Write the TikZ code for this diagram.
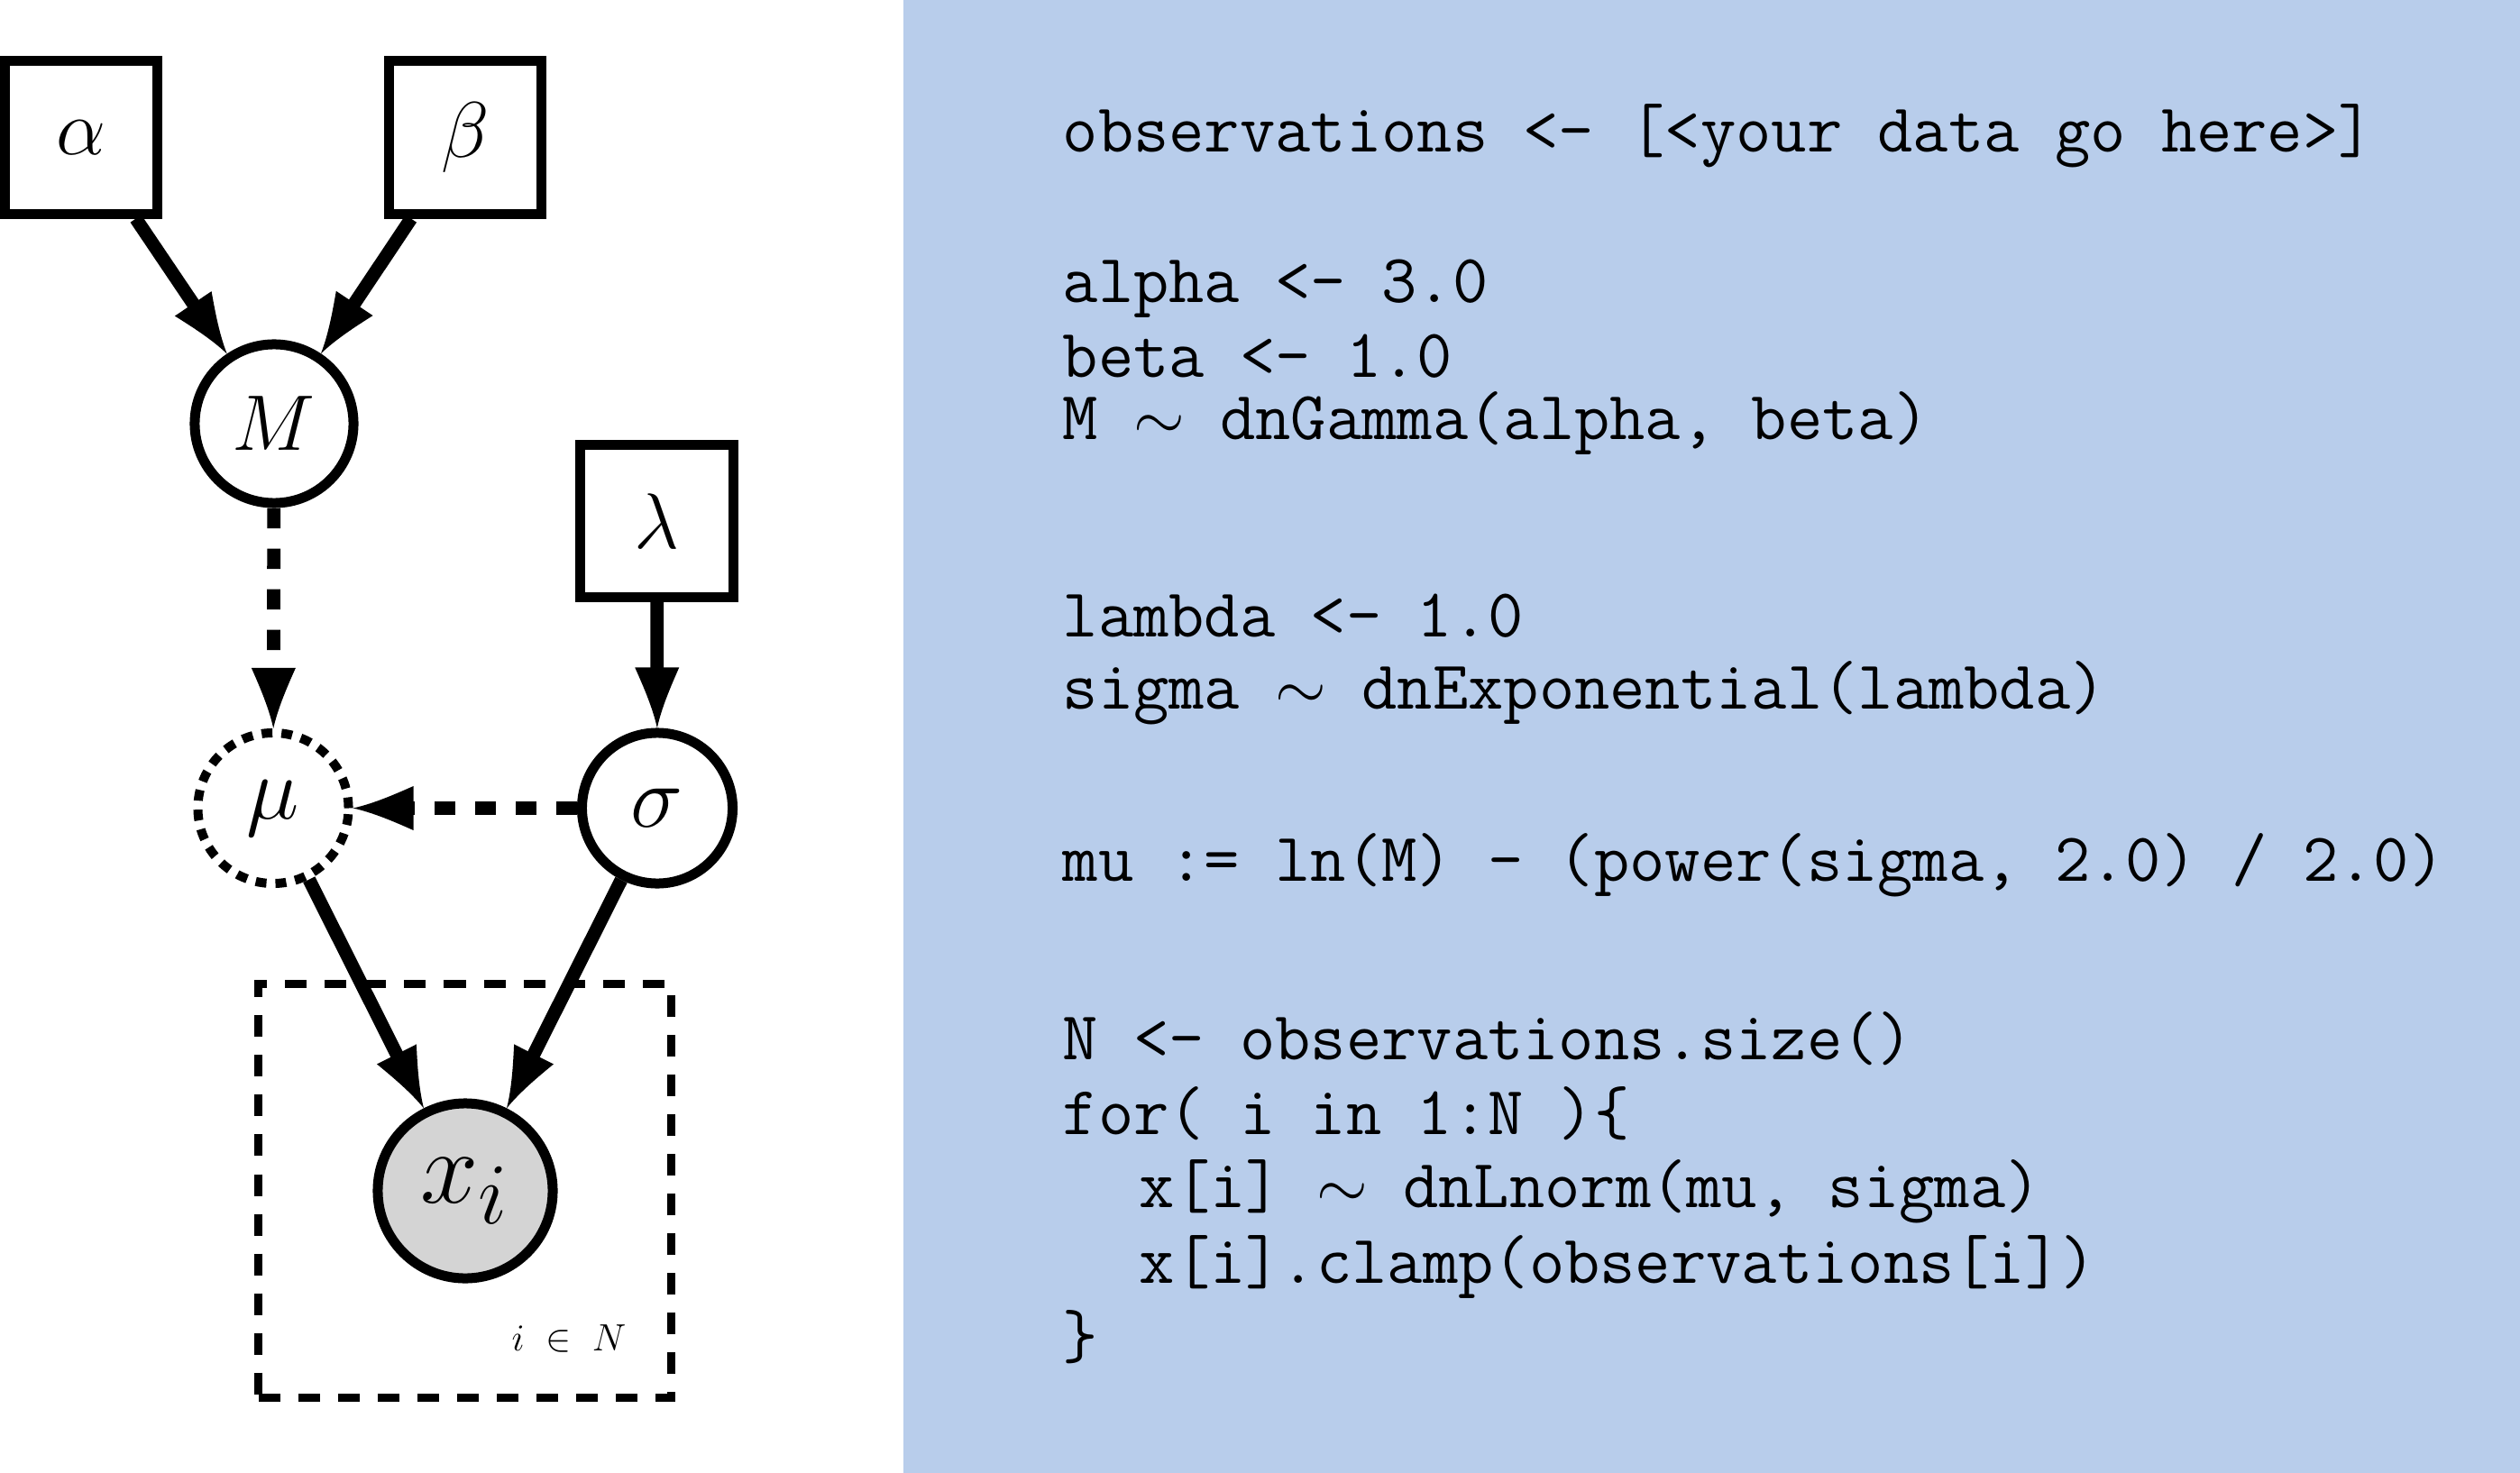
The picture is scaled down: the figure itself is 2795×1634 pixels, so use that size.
\documentclass[tikz,border=0pt]{standalone}
\usetikzlibrary{arrows.meta}
\definecolor{codebg}{RGB}{184,205,235}
\definecolor{obsfill}{RGB}{212,212,212}
\pgfdeclarearrow{
  name = Concave,
  parameters = {\the\pgfarrowlength,\the\pgfarrowwidth},
  setup code = {
    \pgfarrowssettipend{0pt}
    \pgfarrowssetbackend{-\pgfarrowlength}
    \pgfarrowssetlineend{-0.5\pgfarrowlength}
    \pgfarrowssavethe\pgfarrowlength
    \pgfarrowssavethe\pgfarrowwidth
  },
  drawing code = {
    \pgfpathmoveto{\pgfpointorigin}
    \pgfpathcurveto{\pgfpoint{-0.33\pgfarrowlength}{0.1\pgfarrowwidth}}{\pgfpoint{-0.67\pgfarrowlength}{0.3\pgfarrowwidth}}{\pgfpoint{-\pgfarrowlength}{0.5\pgfarrowwidth}}
    \pgfpathlineto{\pgfpoint{-\pgfarrowlength}{-0.5\pgfarrowwidth}}
    \pgfpathcurveto{\pgfpoint{-0.67\pgfarrowlength}{-0.3\pgfarrowwidth}}{\pgfpoint{-0.33\pgfarrowlength}{-0.1\pgfarrowwidth}}{\pgfpointorigin}
    \pgfpathclose
    \pgfusepathqfill
  },
  defaults = {length = 6pt, width = 4pt}
}
\begin{document}
\begin{tikzpicture}[x=0.01cm,y=-0.01cm,
  mathfont/.style={font=\fontsize{24.88}{28}\selectfont},
  constbox/.style={draw, line width=3.13pt, minimum size=1.69cm, inner sep=0pt, mathfont},
  stochnode/.style={circle, draw, line width=3.13pt, minimum size=1.67cm, inner sep=0pt, mathfont},
  detnode/.style={circle, draw, line width=2.85pt, dash pattern=on 0.12cm off 0.10cm, minimum size=1.67cm, inner sep=0pt, mathfont},
  obsnode/.style={circle, draw, fill=obsfill, line width=3.13pt, minimum size=1.94cm, inner sep=0pt, mathfont},
  edge/.style={line width=4.2pt, -{Concave[length=0.67cm,width=0.49cm]}},
  dedge/.style={edge, dash pattern=on 0.225cm off 0.225cm},
  platebox/.style={draw, line width=2.56pt, dash pattern=on 0.24cm off 0.2cm, minimum width=4.575cm, minimum height=4.585cm, inner sep=0pt},
  codeline/.style={anchor=base west, inner sep=0pt, font=\ttfamily\fontsize{21.7}{26}\selectfont}
]
\useasboundingbox (0,0) rectangle (2795,1634);
\fill[white] (0,0) rectangle (2795,1634);
\fill[codebg] (1002,0) rectangle (2795,1634);

% graph
\node[constbox] (alpha) at (90,152.5) {$\alpha$};
\node[constbox] (beta) at (516,152.5) {$\beta$};
\node[stochnode, minimum size=1.76cm] (M) at (304,470) {$M$};
\node[constbox] (lambda) at (728.5,578) {$\lambda$};
\node[detnode] (mu) at (303,896.5) {\scalebox{1.13}{$\mu$}};
\node[stochnode] (sigma) at (729,896.5) {\scalebox{1.12}{$\sigma$}};
\node[platebox] (plate) at (515.75,1321.25) {};
\node[obsnode] (xi) at (516,1321) {\scalebox{1.32}{$x_i$}};
\node[anchor=base, inner sep=0pt, font=\fontsize{11.5}{14}\selectfont] (range) at (631,1498) {$i\;\in\;N$};

\draw[edge] (alpha) -- (M);
\draw[edge] (beta) -- (M);
\draw[edge] (lambda) -- (sigma);
\draw[dedge] (M) -- (mu);
\draw[dedge] (sigma) -- (mu);
\draw[edge] (mu) -- (xi);
\draw[edge] (sigma) -- (xi);

% code
\node[codeline] (c1) at (1178,169) {observations <- [<your data go here>]};
\node[codeline] (c2) at (1178,336) {alpha <- 3.0};
\node[codeline] (c3) at (1178,419) {beta <- 1.0};
\node[codeline] (c4) at (1178,488) {M $\sim$ dnGamma(alpha, beta)};
\node[codeline] (c5) at (1178,706) {lambda <- 1.0};
\node[codeline] (c6) at (1178,786) {sigma $\sim$ dnExponential(lambda)};
\node[codeline] (c7) at (1178,977) {mu := ln(M) - (power(sigma, 2.0) / 2.0)};
\node[codeline] (c8) at (1178,1175) {N <- observations.size()};
\node[codeline] (c9) at (1178,1258) {for( i in 1:N )\{};
\node[codeline] (c10) at (1263,1339) {x[i] $\sim$ dnLnorm(mu, sigma)};
\node[codeline] (c11) at (1263,1423) {x[i].clamp(observations[i])};
\node[codeline] (c12) at (1178,1506) {\}};
\end{tikzpicture}
\end{document}
